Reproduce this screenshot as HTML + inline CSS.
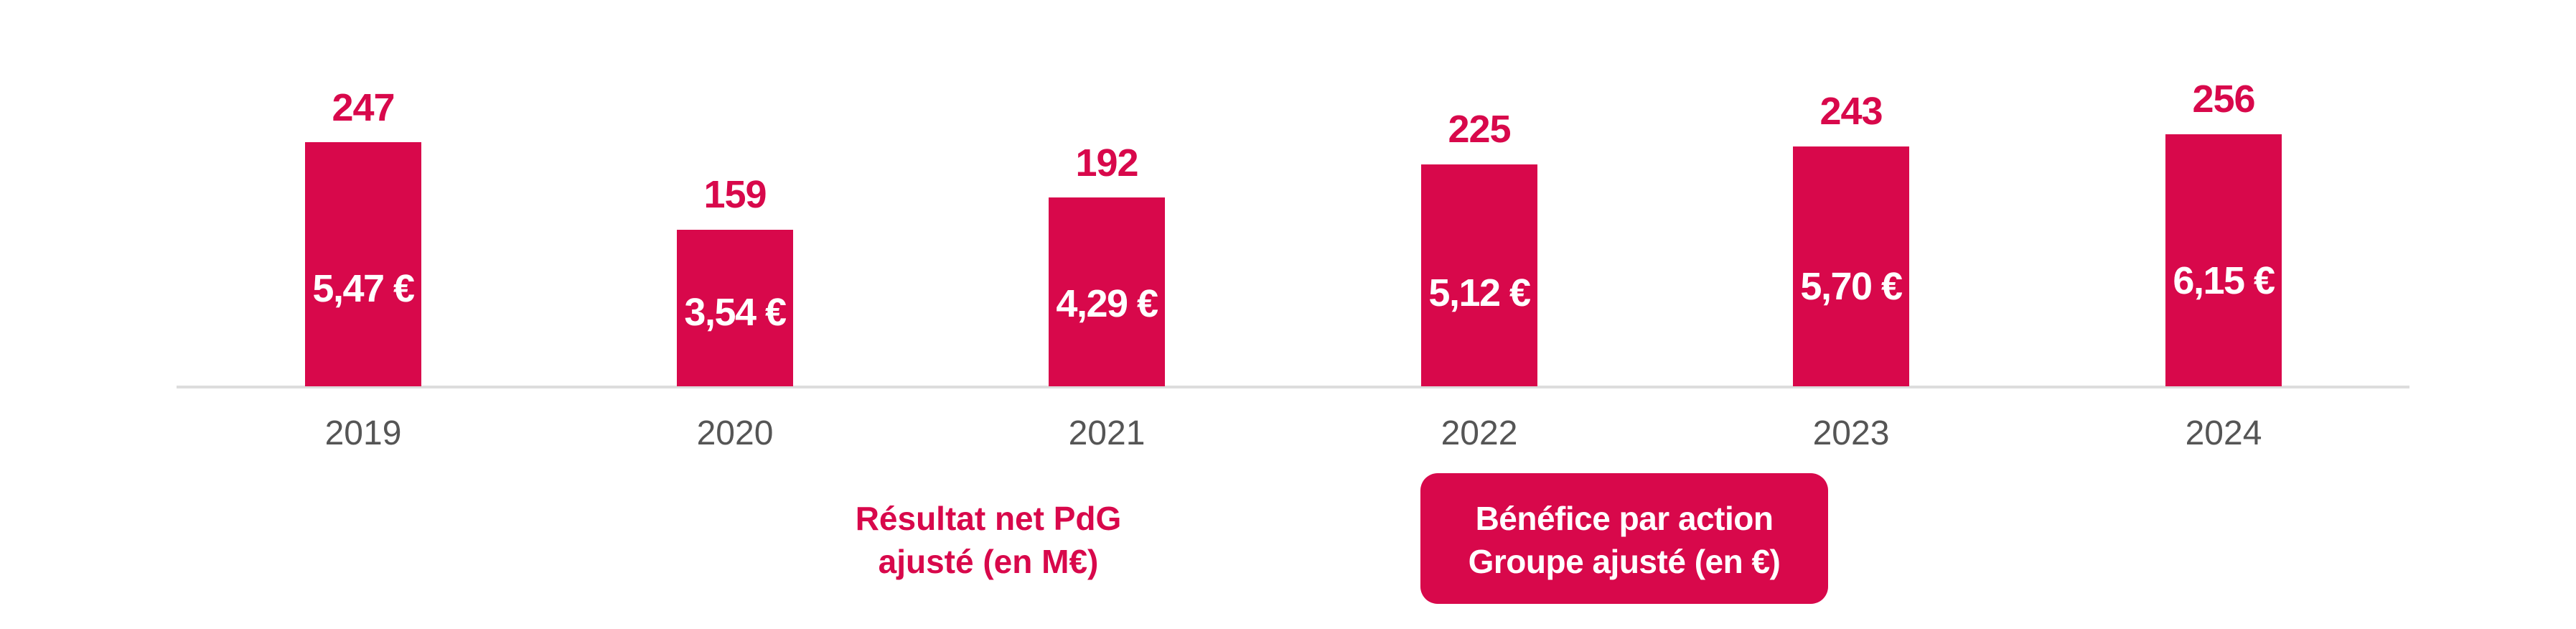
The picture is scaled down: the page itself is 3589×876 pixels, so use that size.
<!DOCTYPE html>
<html><head><meta charset="utf-8"><style>
html,body{margin:0;padding:0;background:#fff;}
body{width:3589px;height:876px;position:relative;overflow:hidden;font-family:"Liberation Sans",sans-serif;}
.bar{position:absolute;width:162px;background:#D8084B;bottom:338px;}
.v{position:absolute;width:300px;text-align:center;font-weight:bold;font-size:54px;line-height:1;color:#D8084B;transform:translate(-50%,-50%);letter-spacing:-1px;}
.w{color:#fff;font-size:54px;letter-spacing:-1.5px;}
.y{position:absolute;width:300px;text-align:center;font-size:48px;line-height:1;color:#555;transform:translate(-50%,-50%);}
.axis{position:absolute;left:246px;top:537px;width:3111px;height:4px;background:#ddd;}
.lab{position:absolute;text-align:center;font-weight:bold;font-size:46px;line-height:60px;}
</style></head><body>
<div class="axis"></div>
<div class="bar" style="left:425px;top:198px"></div>
<div class="bar" style="left:943px;top:320px"></div>
<div class="bar" style="left:1461px;top:275px"></div>
<div class="bar" style="left:1980px;top:229px"></div>
<div class="bar" style="left:2498px;top:204px"></div>
<div class="bar" style="left:3017px;top:187px"></div>

<div class="v" style="left:506px;top:150px">247</div>
<div class="v" style="left:1024px;top:271px">159</div>
<div class="v" style="left:1542px;top:227px">192</div>
<div class="v" style="left:2061px;top:180px">225</div>
<div class="v" style="left:2579px;top:155px">243</div>
<div class="v" style="left:3098px;top:138px">256</div>

<div class="v w" style="left:506px;top:402px">5,47 €</div>
<div class="v w" style="left:1024px;top:435px">3,54 €</div>
<div class="v w" style="left:1542px;top:423px">4,29 €</div>
<div class="v w" style="left:2061px;top:408px">5,12 €</div>
<div class="v w" style="left:2579px;top:399px">5,70 €</div>
<div class="v w" style="left:3098px;top:391px">6,15 €</div>

<div class="y" style="left:506px;top:604px">2019</div>
<div class="y" style="left:1024px;top:604px">2020</div>
<div class="y" style="left:1542px;top:604px">2021</div>
<div class="y" style="left:2061px;top:604px">2022</div>
<div class="y" style="left:2579px;top:604px">2023</div>
<div class="y" style="left:3098px;top:604px">2024</div>

<div class="lab" style="left:1127px;width:500px;top:692px;color:#D8084B">Résultat net PdG<br>ajusté (en M€)</div>
<div class="lab" style="left:1979px;width:568px;top:659px;height:182px;background:#D8084B;border-radius:24px;color:#fff;box-sizing:border-box;padding-top:33px;letter-spacing:-0.5px">Bénéfice par action<br>Groupe ajusté (en €)</div>
</body></html>
